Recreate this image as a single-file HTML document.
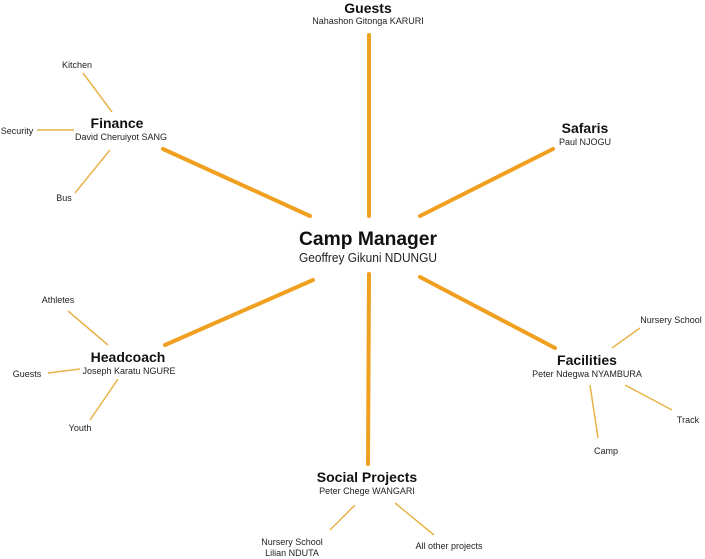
<!DOCTYPE html>
<html><head><meta charset="utf-8"><style>
html,body{margin:0;padding:0;background:#fff;}
svg{display:block;font-family:"Liberation Sans",sans-serif;}
.b{font-weight:bold;fill:#111;}
.n{fill:#222;}
.m{stroke:#f0a020;stroke-width:4;stroke-linecap:round;}
.s{stroke:#e8b44a;stroke-width:1.5;}
</style></head><body>
<svg width="705" height="559" viewBox="0 0 705 559" xmlns="http://www.w3.org/2000/svg">
<g class="m">
<line x1="369" y1="35" x2="369" y2="216"/>
<line x1="163" y1="149" x2="310" y2="216"/>
<line x1="553" y1="149" x2="420" y2="216"/>
<line x1="165" y1="345" x2="313" y2="280"/>
<line x1="420" y1="277" x2="555" y2="348"/>
<line x1="369" y1="274" x2="368" y2="464"/>
</g>
<g class="s">
<line x1="83" y1="73" x2="112" y2="112"/>
<line x1="37" y1="130" x2="74" y2="130"/>
<line x1="75" y1="193" x2="110" y2="150"/>
<line x1="68" y1="311" x2="108" y2="345"/>
<line x1="48" y1="373" x2="80" y2="369"/>
<line x1="90" y1="420" x2="118" y2="379"/>
<line x1="640" y1="328" x2="612" y2="348"/>
<line x1="672" y1="410" x2="625" y2="385"/>
<line x1="598" y1="438" x2="590" y2="385"/>
<line x1="330" y1="530" x2="355" y2="505"/>
<line x1="434" y1="535" x2="395" y2="503"/>
</g>
<g text-anchor="middle">
<text class="b" x="368" y="245" font-size="19" textLength="138" lengthAdjust="spacingAndGlyphs">Camp Manager</text>
<text class="n" x="368" y="262" font-size="12.5" textLength="138" lengthAdjust="spacingAndGlyphs">Geoffrey Gikuni NDUNGU</text>
<text class="b" x="368" y="13" font-size="14">Guests</text>
<text class="n" x="368" y="24" font-size="9">Nahashon Gitonga KARURI</text>
<text class="b" x="117" y="128" font-size="14">Finance</text>
<text class="n" x="121" y="140" font-size="9">David Cheruiyot SANG</text>
<text class="b" x="585" y="133" font-size="14">Safaris</text>
<text class="n" x="585" y="145" font-size="9">Paul NJOGU</text>
<text class="b" x="128" y="362" font-size="14">Headcoach</text>
<text class="n" x="129" y="374" font-size="9">Joseph Karatu NGURE</text>
<text class="b" x="587" y="365" font-size="14">Facilities</text>
<text class="n" x="587" y="377" font-size="9">Peter Ndegwa NYAMBURA</text>
<text class="b" x="367" y="482" font-size="14">Social Projects</text>
<text class="n" x="367" y="494" font-size="9">Peter Chege WANGARI</text>
</g>
<g class="n" font-size="9" text-anchor="middle">
<text x="77" y="68">Kitchen</text>
<text x="17" y="134">Security</text>
<text x="64" y="201">Bus</text>
<text x="58" y="303">Athletes</text>
<text x="27" y="377">Guests</text>
<text x="80" y="431">Youth</text>
<text x="671" y="323">Nursery School</text>
<text x="688" y="423">Track</text>
<text x="606" y="454">Camp</text>
<text x="292" y="545">Nursery School</text>
<text x="292" y="556">Lilian NDUTA</text>
<text x="449" y="549">All other projects</text>
</g>
</svg>
</body></html>
